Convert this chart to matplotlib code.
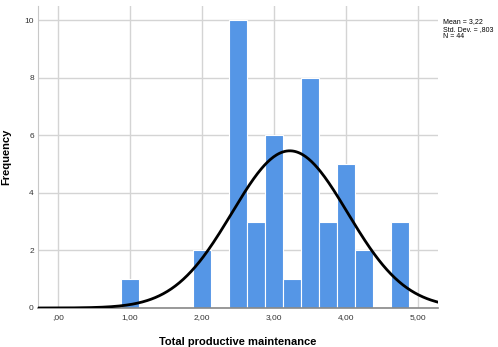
import numpy as np
from matplotlib import pyplot as plt

plt.rcParams['font.family'] = ['Liberation Sans', 'DejaVu Sans']

# histogram of total productive maintenance scores
bin_centers = [1.00, 2.00, 2.50, 2.75, 3.00, 3.25, 3.50, 3.75, 4.00, 4.25, 4.75]
counts = [1, 2, 10, 3, 6, 1, 8, 3, 5, 2, 3]
bin_width = 0.25

mean = 3.22
std = 0.803
n = 44

x_ticks = [0, 1, 2, 3, 4, 5]
x_tick_labels = [',00', '1,00', '2,00', '3,00', '4,00', '5,00']
y_ticks = [0, 2, 4, 6, 8, 10]

fig = plt.figure(figsize=(4.98, 3.47), dpi=100)
ax = fig.add_axes([0.0763, 0.1124, 0.8032, 0.8703])

ax.bar(bin_centers, counts, width=bin_width, color='#5596e6',
       edgecolor='white', linewidth=0.8, zorder=2)

# normal curve scaled to the histogram
xs = np.linspace(-0.28, 5.28, 400)
ys = n * bin_width / (std * np.sqrt(2 * np.pi)) * np.exp(-0.5 * ((xs - mean) / std) ** 2)
ax.plot(xs, ys, c='black', linewidth=2, zorder=3)

ax.set_xlim(-0.28, 5.28)
ax.set_ylim(0, 10.5)
ax.set_xticks(x_ticks)
ax.set_xticklabels(x_tick_labels)
ax.set_yticks(y_ticks)
ax.tick_params(length=0, labelsize=6, labelcolor='#333333')
ax.tick_params(axis='x', pad=4)
ax.tick_params(axis='y', pad=3)
ax.grid(True, color='#d4d4d4', linewidth=1, zorder=0)
ax.set_axisbelow(True)

for s in ['top', 'right']:
    ax.spines[s].set_visible(False)
ax.spines['left'].set_color('#c8c8c8')
ax.spines['bottom'].set_color('#888888')
ax.spines['bottom'].set_linewidth(1.2)

ax.set_xlabel('Total productive maintenance', fontsize=8, fontweight='bold')
ax.set_ylabel('Frequency', fontsize=8, fontweight='bold')
ax.xaxis.set_label_coords(0.5, -0.097)
ax.yaxis.set_label_coords(-0.067, 0.5)

fig.text(0.889, 0.947, 'Mean = 3,22\nStd. Dev. = ,803\nN = 44', fontsize=5,
         va='top', ha='left', linespacing=1.05)

fig.savefig('out.png', dpi=100)
